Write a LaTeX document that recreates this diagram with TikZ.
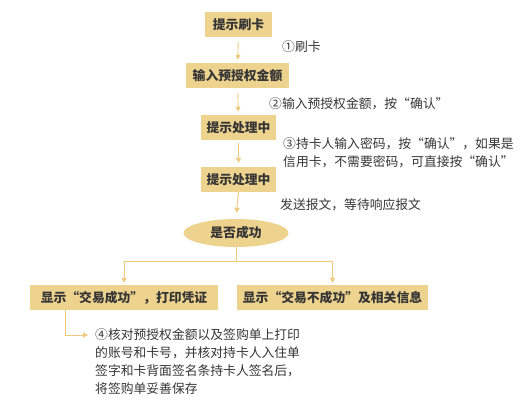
\documentclass[tikz,border=0pt]{standalone}
\usepackage{fontspec}
\usepackage{tikz}
\usetikzlibrary{arrows.meta,shapes.geometric,positioning}
\setmainfont{Noto Sans CJK SC}[RawFeature=+fwid]
\definecolor{boxgold}{HTML}{EDD38E}
\definecolor{linegold}{HTML}{EEC97C}
\definecolor{inktext}{HTML}{353535}
\tikzset{
  stepbox/.style={fill=boxgold, minimum height=25pt, inner sep=0pt, text=inktext,
    font=\fontsize{12.8}{18}\selectfont\bfseries},
  decision/.style={ellipse, fill=boxgold, minimum width=105pt, minimum height=28pt,
    inner sep=0pt, text=inktext, font=\fontsize{12.8}{18}\selectfont\bfseries},
  note/.style={anchor=west, align=left, inner sep=0pt, text=inktext,
    font=\fontsize{12.8}{18}\selectfont},
  flow/.style={draw=linegold, line width=0.9pt, -{Triangle[width=5pt,length=5pt]}}
}
\begin{document}
\begin{tikzpicture}[x=1pt,y=-1pt]
        \useasboundingbox (0,0) rectangle (529,400);

        % Steps down the middle
        \node[stepbox, minimum width=67pt] (swipe) at (238.5,24.5) {提示刷卡};
        \node[stepbox, minimum width=103pt] (amount) at (237.5,75.5) {输入预授权金额};
        \node[stepbox, minimum width=75pt] (wait1) at (238.5,127.5) {提示处理中};
        \node[stepbox, minimum width=75pt] (wait2) at (238.5,179.5) {提示处理中};
        \node[decision] (ok) at (236,233) {是否成功};

        % The two outcomes
        \node[stepbox, minimum width=188pt] (done) at (124,297.5) {显示“交易成功”，打印凭证};
        \node[stepbox, minimum width=191pt] (fail) at (332.5,297.5) {显示“交易不成功”及相关信息};

        % Notes beside the arrows
        \node[note] (n1) at (282,47) {①刷卡};
        \node[note] (n2) at (269,104) {②输入预授权金额，按“确认”};
        \node[note] (n3) at (283,153) {③持卡人输入密码，按“确认”，如果是\\信用卡，不需要密码，可直接按“确认”};
        \node[note] (n5) at (280,205) {发送报文，等待响应报文};
        \node[note] (n4) at (95,361.5) {④核对预授权金额以及签购单上打印\\的账号和卡号，并核对持卡人入住单\\签字和卡背面签名条持卡人签名后，\\将签购单妥善保存};

        % Arrows between the steps
        \draw[flow, shorten <=5pt, shorten >=3pt] (swipe) -- (amount);
        \draw[flow, shorten <=5pt, shorten >=3pt] (amount) -- (wait1);
        \draw[flow, shorten <=3pt, shorten >=4pt] (wait1) -- (wait2);
        \draw[flow, shorten >=6pt] (wait2.south) -- (ok.north);

        % Split below the decision
        \coordinate (split) at (236,261);
        \draw[draw=linegold, line width=0.9pt] (ok.south) -- (split);
        \draw[flow, shorten >=2pt] (split) -| (done.north);
        \draw[flow, shorten >=2pt] (split) -| (fail.north);

        % From the success box to the last note
        \coordinate (bend) at (65,335);
        \draw[flow] (done.south -| bend) -- (bend) -- ([xshift=-7pt]n4.west |- bend);

    \end{tikzpicture}
\end{document}
